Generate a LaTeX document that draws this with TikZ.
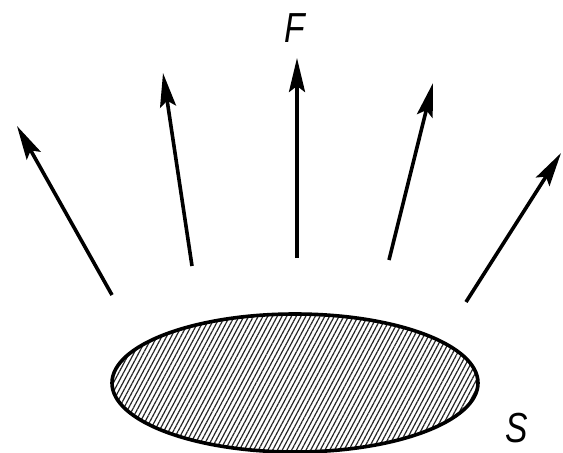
\documentclass[tikz,border=0pt]{standalone}
\usepackage{fontspec}
\setmainfont{Liberation Sans}
\usepackage{tikz}
\usepackage{xcolor}
\usetikzlibrary{arrows.meta,positioning,shapes.geometric,patterns.meta}
\definecolor{ink}{HTML}{000000}

\begin{document}
\begin{tikzpicture}[x=1pt,y=-1pt,
    flux/.style={draw=ink,line width=3.6pt,-{Stealth[length=34pt,width=16pt,inset=6pt]}},
    surf/.style={ellipse,draw=ink,line width=3.6pt,minimum width=366pt,minimum height=138pt,
                 pattern={Lines[angle=62,distance=4.2pt,line width=1.2pt]},pattern color=ink!85},
    lab/.style={inner sep=0pt,font=\itshape\fontsize{42}{44}\selectfont}]
  \useasboundingbox (0,0) rectangle (563,453);
  \node[surf] (s) at (295,383) {};
  \node[lab] (f) at (295,28) {\scalebox{0.8}[1]{F}};
  \node[lab] (slab) at (517,428) {\scalebox{0.8}[1]{S}};
  % flux lines leaving the surface
  \coordinate (a1) at (112,295); \coordinate (b1) at (17,126);
  \coordinate (a2) at (192,266); \coordinate (b2) at (163,73);
  \coordinate (a3) at (297,258); \coordinate (b3) at (297,58);
  \coordinate (a4) at (389,260); \coordinate (b4) at (433,83);
  \coordinate (a5) at (466,302); \coordinate (b5) at (561,153);
  \foreach \i in {1,...,5} \draw[flux] (a\i) -- (b\i);
\end{tikzpicture}
\end{document}
